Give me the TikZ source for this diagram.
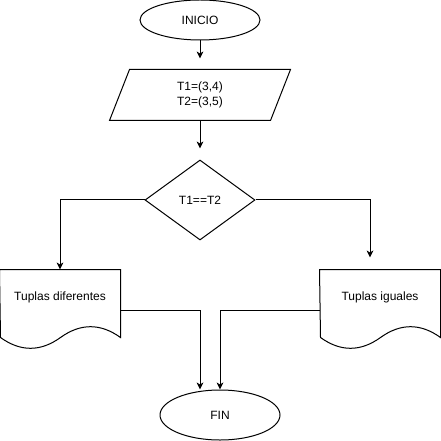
\documentclass[tikz,border=0pt]{standalone}
\usepackage{fontspec}
\setmainfont{Liberation Sans}
\usetikzlibrary{shapes.geometric, arrows.meta}

\begin{document}
\begin{tikzpicture}[x=0.75pt, y=-0.75pt, line width=0.75pt, font=\fontsize{9pt}{11.25pt}\selectfont]
\useasboundingbox (0,0) rectangle (441,441);
   \tikzset{TerminalStyle/.style = {shape = ellipse, draw, minimum width = 90pt, inner sep = 0pt}}
   \tikzset{BoxStyle/.style = {shape = rectangle, minimum width = 90pt, minimum height = 60pt, inner sep = 0pt, align = center}}
   \tikzset{DecisionStyle/.style = {shape = diamond, draw, minimum width = 82.5pt, minimum height = 60pt, inner sep = 0pt}}
   \tikzset{EdgeStyle/.style = {-{Stealth[length=5.25pt, width=5pt, inset=1.5pt]}}}

   \node[TerminalStyle, minimum height = 30pt]   (ini) at (200,20)  {INICIO};
   \node[BoxStyle, minimum width = 120pt, minimum height = 37.5pt] (dat) at (200,95) {T1=(3,4)\\T2=(3,5)};
   \node[DecisionStyle]                            (cmp) at (200,200) {T1==T2};
   \node[BoxStyle]                                 (dif) at (60,310)  {};
   \node[BoxStyle]                                 (igu) at (380,310) {};
   \node[TerminalStyle, minimum height = 37.5pt] (fin) at (220,415) {FIN};

% parallelogram and document outlines
   \draw ([xshift=-7.5pt]dat.south west) -- ([xshift=7.5pt]dat.north west)
      -- ([xshift=7.5pt]dat.north east) -- ([xshift=-7.5pt]dat.south east) -- cycle;
   \foreach \d/\t in {dif/Tuplas diferentes, igu/Tuplas iguales}{
      \draw (\d.north west) -- (\d.north east) -- ++(0,68)
         .. controls +(-20,-14.4) and +(20,-14.4) .. ++(-60,0)
         .. controls +(-20,14.4) and +(20,14.4) .. ++(-60,0) -- cycle;
      \node at ([yshift=9.75pt]\d.center) {\t};
   }

   \draw[EdgeStyle, shorten >=8.25pt] (ini) -- (dat);
   \draw[EdgeStyle, shorten >=8.25pt] (dat) -- (cmp);
   \draw[EdgeStyle] (cmp.west) -| (dif.north);
   \draw[EdgeStyle, shorten >=9pt] (cmp.east) -| ([xshift=-7.5pt]igu.north);
   \draw[EdgeStyle] (dif.east) -| ([xshift=-15pt]fin.north);
   \draw[EdgeStyle] (igu.west) -| (fin.north);

\end{tikzpicture}
\end{document}
